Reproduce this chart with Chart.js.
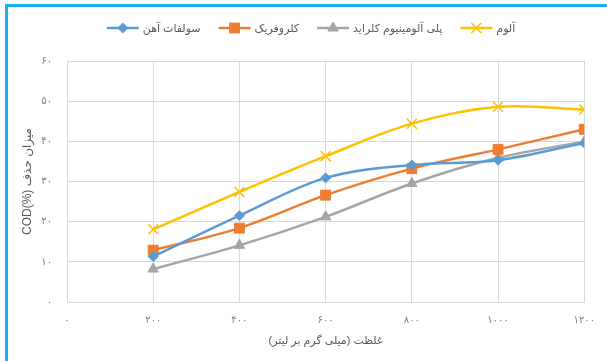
<!DOCTYPE html>
<html>
<head>
<meta charset="utf-8">
<script src="https://cdn.jsdelivr.net/npm/chart.js@4.4.1/dist/chart.umd.min.js"></script>
<style>
  html, body { margin: 0; padding: 0; background: #fff; overflow: hidden; }
  #wrap { position: relative; width: 607px; height: 361px; }
  canvas { display: block; }
  /* blue frame along the top and left edges */
  #frame {
    position: absolute; left: 5px; top: 4px; width: 700px; height: 400px;
    border-top: 3px solid #17b3ec; border-left: 3px solid #17b3ec;
    pointer-events: none;
  }
</style>
</head>
<body>
<div id="wrap"><canvas id="codChart" width="607" height="361"></canvas><div id="frame"></div></div>
<script>
// dose in mg/L
const doses = [200, 400, 600, 800, 1000, 1200];

// COD removal (%) per coagulant
const ferrousSulfate = [11.3, 21.5, 30.9, 34.1, 35.3, 39.6];
const ferricChloride = [12.9, 18.4, 26.6, 33.2, 38.0, 43.0];
const polyAlCl = [8.2, 14.1, 21.2, 29.5, 35.9, 39.9];
const alum = [18.1, 27.4, 36.3, 44.4, 48.6, 47.9];

const seriesNames = ['سولفات آهن', 'کلروفریک', 'پلی آلومینیوم کلراید', 'آلوم'];

const xTickLabels = ['۰', '۲۰۰', '۴۰۰', '۶۰۰', '۸۰۰', '۱۰۰۰', '۱۲۰۰'];
const yTickLabels = ['۰', '۱۰', '۲۰', '۳۰', '۴۰', '۵۰', '۶۰'];

const xTitle = 'غلظت (میلی گرم بر لیتر)\u200F';
const yTitle = 'COD(%) میزان حذف';

const FONT = "'Liberation Sans', 'DejaVu Sans', sans-serif";

function toPoints(values) {
  return values.map((v, i) => ({ x: doses[i], y: v }));
}

function series(label, values, color, style, radius, bw) {
  return {
    label: label,
    data: toPoints(values),
    borderColor: color,
    backgroundColor: color,
    borderWidth: 2.5,
    tension: 0.35,
    pointStyle: style,
    pointRadius: radius,
    pointBorderWidth: bw,
    pointBorderColor: color,
    pointBackgroundColor: color
  };
}

// legend row: line sample with marker, then the name
const legendRow = {
  id: 'legendRow',
  afterDraw(chart) {
    const ctx = chart.ctx;
    const sample = 32, gap = 4, spacing = 18, cy = 28;
    ctx.save();
    ctx.font = '11px ' + FONT;
    ctx.textBaseline = 'middle';
    ctx.textAlign = 'left';
    const widths = chart.data.datasets.map(ds => sample + gap + ctx.measureText(ds.label).width);
    const total = widths.reduce((a, b) => a + b, 0) + spacing * (widths.length - 1);
    let x = 311 - total / 2;
    chart.data.datasets.forEach((ds, i) => {
      ctx.strokeStyle = ds.borderColor;
      ctx.lineWidth = 2.5;
      ctx.beginPath();
      ctx.moveTo(x, cy);
      ctx.lineTo(x + sample, cy);
      ctx.stroke();
      ctx.fillStyle = ds.pointBackgroundColor;
      ctx.strokeStyle = ds.pointBorderColor;
      ctx.lineWidth = ds.pointBorderWidth;
      Chart.helpers.drawPoint(ctx, {
        pointStyle: ds.pointStyle,
        radius: ds.pointRadius,
        rotation: 0,
        borderWidth: ds.pointBorderWidth
      }, x + sample / 2, cy);
      ctx.fillStyle = '#595959';
      ctx.fillText(ds.label, x + sample + gap, cy + 1);
      x += widths[i] + spacing;
    });
    ctx.restore();
  }
};

new Chart(document.getElementById('codChart'), {
  type: 'line',
  data: {
    datasets: [
      series(seriesNames[0], ferrousSulfate, '#5b9bd5', 'rectRot', 5, 1),
      series(seriesNames[1], ferricChloride, '#ed7d31', 'rect', 7, 1),
      series(seriesNames[2], polyAlCl, '#a5a5a5', 'triangle', 6, 1),
      series(seriesNames[3], alum, '#ffc000', 'crossRot', 7, 1.5)
    ]
  },
  options: {
    responsive: false,
    animation: false,
    events: [],
    layout: { padding: { top: 61, right: 16, bottom: 0, left: 0 } },
    plugins: {
      legend: { display: false },
      tooltip: { enabled: false }
    },
    scales: {
      x: {
        type: 'linear',
        min: 0,
        max: 1200,
        afterFit(scale) { scale.height = 59; },
        grid: { color: '#d9d9d9', drawTicks: false },
        border: { color: '#d9d9d9' },
        ticks: {
          stepSize: 200,
          padding: 12,
          maxRotation: 0,
          color: '#7f7f7f',
          font: { family: FONT, size: 10 },
          callback: (v, i) => xTickLabels[i]
        },
        title: {
          display: true,
          text: xTitle,
          color: '#595959',
          font: { family: FONT, size: 11 },
          padding: { top: 0, bottom: 13 }
        }
      },
      y: {
        min: 0,
        max: 60,
        afterFit(scale) { scale.width = 67; },
        grid: { color: '#d9d9d9', drawTicks: false },
        border: { color: '#d9d9d9' },
        ticks: {
          stepSize: 10,
          padding: 15,
          color: '#7f7f7f',
          font: { family: FONT, size: 10 },
          callback: (v, i) => yTickLabels[i]
        },
        title: {
          display: true,
          text: yTitle,
          color: '#595959',
          font: { family: FONT, size: 12 },
          padding: { top: 20, bottom: 0 }
        }
      }
    }
  },
  plugins: [legendRow]
});
</script>
</body>
</html>
